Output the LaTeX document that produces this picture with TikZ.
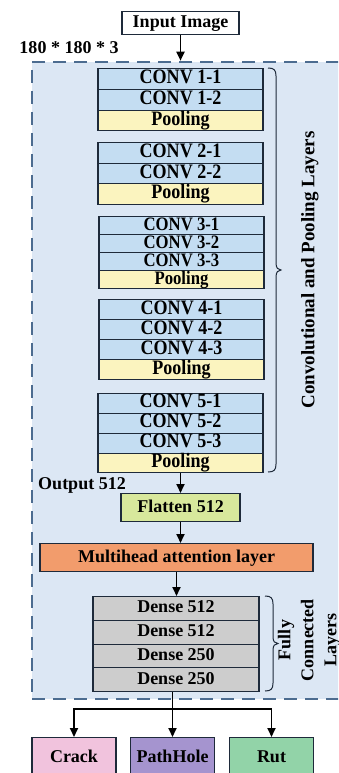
\documentclass[tikz,border=0pt]{standalone}
\usepackage{fontspec}
\setmainfont{Liberation Serif}
\newfontfamily\rowfont{Liberation Serif}[FakeStretch=0.88]
\usetikzlibrary{arrows.meta}
\definecolor{edge}{HTML}{1E2A3A}
\definecolor{panelfill}{HTML}{DCE7F4}
\definecolor{paneldash}{HTML}{4C6C90}
\definecolor{convfill}{HTML}{C4DDF2}
\definecolor{poolfill}{HTML}{FBF4BF}
\definecolor{flatfill}{HTML}{D8E89C}
\definecolor{attnfill}{HTML}{F29C6C}
\definecolor{densefill}{HTML}{CDCDCD}
\definecolor{crackfill}{HTML}{F1C3DD}
\definecolor{holefill}{HTML}{A594CF}
\definecolor{rutfill}{HTML}{92D3A8}
\begin{document}
\begin{tikzpicture}[x=1pt,y=-1pt,
  font=\bfseries\fontsize{18}{20}\selectfont,
  box/.style={draw=edge, line width=1.1pt, inner sep=0pt, anchor=north,
    text height=12.5pt, text depth=3.5pt},
  layerrow/.style={box, minimum width=165,
    font=\rowfont\bfseries\fontsize{20.5}{21}\selectfont,
    text height=13.5pt, text depth=4pt},
  tightrow/.style={font=\rowfont\bfseries\fontsize{19}{19}\selectfont,
    text height=12.5pt, text depth=3.5pt},
  conv/.style={layerrow, fill=convfill},
  pool/.style={layerrow, fill=poolfill},
  dense/.style={box, fill=densefill, minimum width=166, minimum height=23.75},
  outbox/.style={box, minimum width=84, minimum height=40},
  flow/.style={line width=1.8pt, draw=black},
  arr/.style={flow, -{Triangle[length=9pt,width=8pt]}},
  brace/.style={draw=edge, line width=1pt},
  panel/.style={draw=paneldash, fill=panelfill, line width=2.6pt,
    dash pattern=on 13pt off 8pt, inner sep=0pt}]

\useasboundingbox (0,0) rectangle (338,773);
\clip (0,0) rectangle (338,773);

% dashed panel holding the network body
\node[panel, minimum width=318, minimum height=637] (panel) at (191,380.5) {};

% input
\node[box, fill=white, minimum width=117, minimum height=23] (input) at (180.5,11) {Input Image};
\node (insize) at (69,48) {180 * 180 * 3};

% block 1
\node[conv, minimum height=21] (c11) at (180.5,68) {CONV 1-1};
\node[conv, minimum height=21] (c12) at (180.5,89) {CONV 1-2};
\node[pool, minimum height=20] (p1) at (180.5,110) {Pooling};
% block 2
\node[conv, minimum height=20.5] (c21) at (180.5,142) {CONV 2-1};
\node[conv, minimum height=20.5] (c22) at (180.5,162.5) {CONV 2-2};
\node[pool, minimum height=20.5] (p2) at (180.5,183) {Pooling};
% block 3 (shorter rows)
\node[conv, tightrow, minimum height=18] (c31) at (181.5,216) {CONV 3-1};
\node[conv, tightrow, minimum height=18] (c32) at (181.5,234) {CONV 3-2};
\node[conv, tightrow, minimum height=18] (c33) at (181.5,252) {CONV 3-3};
\node[pool, tightrow, minimum height=18] (p3) at (181.5,270) {Pooling};
% block 4
\node[conv, minimum height=20] (c41) at (181.5,299) {CONV 4-1};
\node[conv, minimum height=20] (c42) at (181.5,319) {CONV 4-2};
\node[conv, minimum height=20] (c43) at (181.5,339) {CONV 4-3};
\node[pool, minimum height=20] (p4) at (181.5,359) {Pooling};
% block 5
\node[conv, minimum height=20] (c51) at (180.5,392.5) {CONV 5-1};
\node[conv, minimum height=20] (c52) at (180.5,412.5) {CONV 5-2};
\node[conv, minimum height=20] (c53) at (180.5,432.5) {CONV 5-3};
\node[pool, minimum height=19.5] (p5) at (180.5,452.5) {Pooling};

% brace over the convolutional blocks
\draw[brace] (268,68) .. controls (274,68) and (276,70) .. (276,76) -- (276,263)
  .. controls (276,268) and (278,270) .. (281,270)
  .. controls (278,270) and (276,272) .. (276,277) -- (276,464)
  .. controls (276,470) and (274,472) .. (268,472);
\node[rotate=90, font=\bfseries\fontsize{19}{20}\selectfont] (convlabel) at (310,270) {Convolutional and Pooling Layers};

% flatten and attention
\node (outlabel) at (82,485) {Output 512};
\node[box, fill=flatfill, minimum width=119, minimum height=28] (flat) at (180.5,493) {Flatten 512};
\node[box, fill=attnfill, minimum width=273, minimum height=28] (attn) at (176.5,543) {Multihead attention layer};

% dense layers
\node[dense] (d1) at (176,596) {Dense 512};
\node[dense] (d2) at (176,619.75) {Dense 512};
\node[dense] (d3) at (176,643.5) {Dense 250};
\node[dense] (d4) at (176,667.25) {Dense 250};

\draw[brace] (265,596) .. controls (271,596) and (273,598) .. (273,604) -- (273,637)
  .. controls (273,641.5) and (275,643.5) .. (278,643.5)
  .. controls (275,643.5) and (273,645.5) .. (273,650) -- (273,683)
  .. controls (273,689) and (271,691) .. (265,691);
\node[rotate=90, align=center, font=\bfseries\fontsize{18}{23}\selectfont] (fclabel) at (309,640) {Fully\\Connected\\Layers};

% class outputs
\node[outbox, fill=crackfill] (crack) at (74,737) {Crack};
\node[outbox, fill=holefill] (hole) at (172.5,737) {PathHole};
\node[outbox, fill=rutfill] (rut) at (271.5,737) {Rut};
\coordinate (split) at (172.5,709);

% connectors
\draw[arr] (input.south) -- (input.south |- panel.north);
\draw[arr] (p5.south) -- (flat.north);
\draw[arr] (flat.south) -- (flat.south |- attn.north);
\draw[arr] (attn.south) -- (attn.south |- d1.north);
\draw[arr] (d4.south -| hole.north) -- (hole.north);
\draw[arr] (split) -| (crack.north);
\draw[arr] (split) -| (rut.north);
\end{tikzpicture}
\end{document}
